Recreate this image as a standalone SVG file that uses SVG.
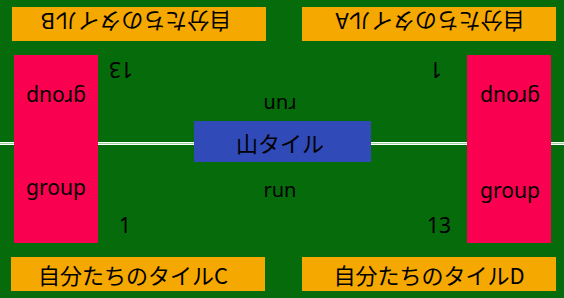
<svg xmlns="http://www.w3.org/2000/svg" width="564" height="298" viewBox="0 0 564 298">
<style>
.bg{fill:#066b0b}
.tile{fill:#f5a800}
.grp{fill:#fa0050}
.mt{fill:#304ab8}
.jp{font-family:"Noto Sans CJK JP","Noto Sans",sans-serif;font-size:22px;fill:#000;text-anchor:middle}
.lt{font-family:"Noto Sans","Open Sans",sans-serif;font-size:21px;fill:#000;text-anchor:middle}
.rn{font-family:"Noto Sans","Open Sans",sans-serif;font-size:20px;fill:#000;text-anchor:middle}
</style>
<rect class="bg" x="0" y="0" width="564" height="298"/>
<g id="connectors">
<rect x="0" y="142" width="564" height="3" fill="#ffffff"/>
<rect x="0" y="143" width="564" height="1" fill="#9fd09f"/>
</g>
<g id="tileB">
<rect class="tile" x="12" y="7" width="254" height="34"/>
<text class="jp" transform="translate(136,22.5) rotate(180)" dominant-baseline="central">自分たちのタイルB</text>
</g>
<g id="tileA">
<rect class="tile" x="302" y="7" width="254" height="34"/>
<text class="jp" transform="translate(430,22.5) rotate(180)" dominant-baseline="central">自分たちのタイルA</text>
</g>
<g id="tileC">
<rect class="tile" x="11" y="257" width="254" height="34"/>
<text class="jp" x="133" y="274" dominant-baseline="central">自分たちのタイルC</text>
</g>
<g id="tileD">
<rect class="tile" x="302" y="257" width="254" height="34"/>
<text class="jp" x="429" y="274" dominant-baseline="central">自分たちのタイルD</text>
</g>
<g id="groupLeft">
<rect class="grp" x="14" y="55" width="84" height="188"/>
<text class="lt" transform="translate(56,90) rotate(180)">group</text>
<text class="lt" x="56" y="195">group</text>
</g>
<g id="groupRight">
<rect class="grp" x="467" y="55" width="84" height="188"/>
<text class="lt" transform="translate(510,90) rotate(180)">group</text>
<text class="lt" x="510" y="198">group</text>
</g>
<g id="mountain">
<rect class="mt" x="194" y="121" width="177" height="41"/>
<text class="jp" x="280" y="142" dominant-baseline="central">山タイル</text>
</g>
<g id="labels">
<text class="lt" transform="translate(121,62) rotate(180)">13</text>
<text class="lt" transform="translate(436,62) rotate(180)">1</text>
<text class="lt" x="125" y="233">1</text>
<text class="lt" x="439" y="233">13</text>
<text class="rn" transform="translate(280,98) rotate(180)">run</text>
<text class="rn" x="280" y="197">run</text>
</g>
</svg>
